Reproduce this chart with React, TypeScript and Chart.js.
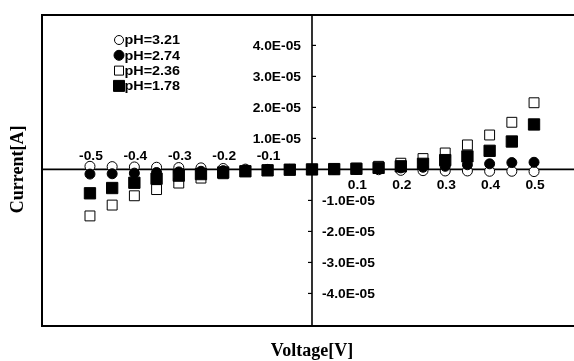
import React, { useEffect, useRef } from 'react';
import { Chart, registerables } from 'chart.js';

Chart.register(...registerables);

// Applied bias (V)
const voltages = [
  -0.5, -0.45, -0.4, -0.35, -0.3, -0.25, -0.2, -0.15, -0.1, -0.05, 0,
  0.05, 0.1, 0.15, 0.2, 0.25, 0.3, 0.35, 0.4, 0.45, 0.5,
];

// Measured current (A) for each electrolyte pH
const currentPH321 = [
  1.0e-6, 0.9e-6, 0.8e-6, 0.7e-6, 0.6e-6, 0.5e-6, 0.3e-6, 0.1e-6, 0, 0, 0,
  0, 0, -0.1e-6, -0.3e-6, -0.4e-6, -0.5e-6, -0.5e-6, -0.6e-6, -0.6e-6, -0.7e-6,
];
const currentPH274 = [
  -1.5e-6, -1.4e-6, -1.2e-6, -1.0e-6, -0.8e-6, -0.6e-6, -0.4e-6, -0.2e-6, -0.1e-6, 0, 0,
  0.1e-6, 0.2e-6, 0.3e-6, 0.5e-6, 0.7e-6, 1.0e-6, 1.5e-6, 1.8e-6, 2.2e-6, 2.3e-6,
];
const currentPH236 = [
  -1.5e-5, -1.15e-5, -0.85e-5, -0.65e-5, -0.44e-5, -0.28e-5, -0.14e-5, -0.06e-5, -0.02e-5, 0, 0,
  0.01e-5, 0.04e-5, 0.1e-5, 0.2e-5, 0.35e-5, 0.53e-5, 0.79e-5, 1.11e-5, 1.52e-5, 2.15e-5,
];
const currentPH178 = [
  -0.77e-5, -0.6e-5, -0.43e-5, -0.3e-5, -0.2e-5, -0.15e-5, -0.1e-5, -0.06e-5, -0.03e-5, -0.01e-5, 0,
  0.01e-5, 0.02e-5, 0.05e-5, 0.1e-5, 0.18e-5, 0.3e-5, 0.42e-5, 0.6e-5, 0.9e-5, 1.45e-5,
];

const seriesLabels = ['pH=3.21', 'pH=2.74', 'pH=2.36', 'pH=1.78'];

const xTickValues = [-0.5, -0.4, -0.3, -0.2, -0.1, 0.1, 0.2, 0.3, 0.4, 0.5];
const xTickLabels = ['-0.5', '-0.4', '-0.3', '-0.2', '-0.1', '0.1', '0.2', '0.3', '0.4', '0.5'];
const yTickValues = [4e-5, 3e-5, 2e-5, 1e-5, -1e-5, -2e-5, -3e-5, -4e-5];
const yTickLabels = ['4.0E-05', '3.0E-05', '2.0E-05', '1.0E-05', '-1.0E-05', '-2.0E-05', '-3.0E-05', '-4.0E-05'];

const SANS = '"Liberation Sans", Arial, sans-serif';
const SERIF = '"Liberation Serif", "Times New Roman", serif';

type Marker = { style: 'circle' | 'rect'; filled: boolean; size: number };
const markers: Marker[] = [
  { style: 'circle', filled: false, size: 9 },
  { style: 'circle', filled: true, size: 10 },
  { style: 'rect', filled: false, size: 9 },
  { style: 'rect', filled: true, size: 11 },
];

function drawMarker(ctx: CanvasRenderingContext2D, m: Marker, cx: number, cy: number) {
  ctx.beginPath();
  if (m.style === 'circle') {
    ctx.arc(cx, cy, m.size / 2, 0, Math.PI * 2);
  } else {
    ctx.rect(cx - m.size / 2, cy - m.size / 2, m.size, m.size);
  }
  ctx.fillStyle = m.filled ? '#000' : '#fff';
  ctx.fill();
  ctx.lineWidth = 1;
  ctx.strokeStyle = '#000';
  ctx.stroke();
}

// text with a slight horizontal stretch, like the wide bold face of the plot
function wideText(
  ctx: CanvasRenderingContext2D,
  text: string,
  x: number,
  y: number,
  align: CanvasTextAlign,
  sx: number,
) {
  ctx.save();
  ctx.translate(x, y);
  ctx.scale(sx, 1);
  ctx.textAlign = align;
  ctx.fillText(text, 0, 0);
  ctx.restore();
}

const centerAxesPlugin = {
  id: 'centerAxes',
  beforeDatasetsDraw(chart: any) {
    const { ctx, chartArea: a, scales } = chart;
    const xs = scales.x;
    const ys = scales.y;
    const x0 = xs.getPixelForValue(0);
    const y0 = ys.getPixelForValue(0);
    ctx.save();
    ctx.strokeStyle = '#000';

    // plot frame (open on the right)
    ctx.lineWidth = 2;
    ctx.beginPath();
    ctx.moveTo(a.right + 4, a.top);
    ctx.lineTo(a.left, a.top);
    ctx.lineTo(a.left, a.bottom);
    ctx.lineTo(a.right + 4, a.bottom);
    ctx.stroke();

    // axes crossing at the origin
    ctx.lineWidth = 1.6;
    ctx.beginPath();
    ctx.moveTo(a.left, y0);
    ctx.lineTo(a.right, y0);
    ctx.moveTo(x0, a.top);
    ctx.lineTo(x0, a.bottom);
    ctx.stroke();

    // y tick marks
    ctx.lineWidth = 1.2;
    yTickValues.forEach((v) => {
      const py = ys.getPixelForValue(v);
      ctx.beginPath();
      if (v > 0) {
        ctx.moveTo(x0, py);
        ctx.lineTo(x0 + 4, py);
      } else {
        ctx.moveTo(x0 - 4, py);
        ctx.lineTo(x0, py);
      }
      ctx.stroke();
    });

    // tick labels
    ctx.fillStyle = '#000';
    ctx.font = `bold 12px ${SANS}`;
    ctx.textBaseline = 'middle';
    yTickValues.forEach((v, i) => {
      const py = ys.getPixelForValue(v);
      if (v > 0) {
        wideText(ctx, yTickLabels[i], x0 - 11, py + 1, 'right', 1.15);
      } else {
        wideText(ctx, yTickLabels[i], x0 + 10, py + 1, 'left', 1.15);
      }
    });
    xTickValues.forEach((v, i) => {
      const px = xs.getPixelForValue(v);
      const py = v < 0 ? y0 - 13 : y0 + 16;
      wideText(ctx, xTickLabels[i], px + 1, py, 'center', 1.15);
    });

    // axis titles
    ctx.font = `bold 18px ${SERIF}`;
    ctx.textAlign = 'center';
    ctx.fillText('Voltage[V]', x0, 351);
    ctx.save();
    ctx.translate(18, y0);
    ctx.rotate(-Math.PI / 2);
    ctx.fillText('Current[A]', 0, 0);
    ctx.restore();

    ctx.restore();
  },
  afterDraw(chart: any) {
    const { ctx } = chart;
    ctx.save();
    ctx.font = `bold 12px ${SANS}`;
    ctx.textBaseline = 'middle';
    seriesLabels.forEach((label, i) => {
      const cy = 40 + i * 15.3;
      drawMarker(ctx, markers[i], 119, cy);
      ctx.fillStyle = '#000';
      wideText(ctx, label, 124.5, cy + 1, 'left', 1.2);
    });
    ctx.restore();
  },
};

function pts(values: number[]) {
  return voltages.map((v, i) => ({ x: v, y: values[i] }));
}

export default function App() {
  const canvasRef = useRef<HTMLCanvasElement | null>(null);

  useEffect(() => {
    if (!canvasRef.current) return;
    const chart = new Chart(canvasRef.current, {
      type: 'scatter',
      data: {
        datasets: [
          {
            label: seriesLabels[3],
            data: pts(currentPH178),
            pointStyle: 'rect',
            pointRadius: 8,
            backgroundColor: '#000',
            borderColor: '#000',
            borderWidth: 1,
            order: 0,
          },
          {
            label: seriesLabels[1],
            data: pts(currentPH274),
            pointStyle: 'circle',
            pointRadius: 5,
            backgroundColor: '#000',
            borderColor: '#000',
            borderWidth: 1,
            order: 1,
          },
          {
            label: seriesLabels[2],
            data: pts(currentPH236),
            pointStyle: 'rect',
            pointRadius: 7,
            backgroundColor: '#fff',
            borderColor: '#000',
            borderWidth: 1,
            order: 2,
          },
          {
            label: seriesLabels[0],
            data: pts(currentPH321),
            pointStyle: 'circle',
            pointRadius: 5,
            backgroundColor: '#fff',
            borderColor: '#000',
            borderWidth: 1,
            order: 3,
          },
        ],
      },
      options: {
        animation: false,
        responsive: false,
        maintainAspectRatio: false,
        layout: { autoPadding: false, padding: { left: 42, top: 15, right: 0, bottom: 35 } },
        scales: {
          x: { type: 'linear', min: -0.608, max: 0.59, display: false },
          y: { type: 'linear', min: -5.05e-5, max: 4.98e-5, display: false },
        },
        plugins: {
          legend: { display: false },
          tooltip: { enabled: false },
        },
      },
      plugins: [centerAxesPlugin],
    });
    return () => chart.destroy();
  }, []);

  return (
    <div style={{ position: 'fixed', left: 0, top: 0, width: 574, height: 361, background: '#fff' }}>
      <canvas ref={canvasRef} width={574} height={361} style={{ display: 'block' }} />
    </div>
  );
}
